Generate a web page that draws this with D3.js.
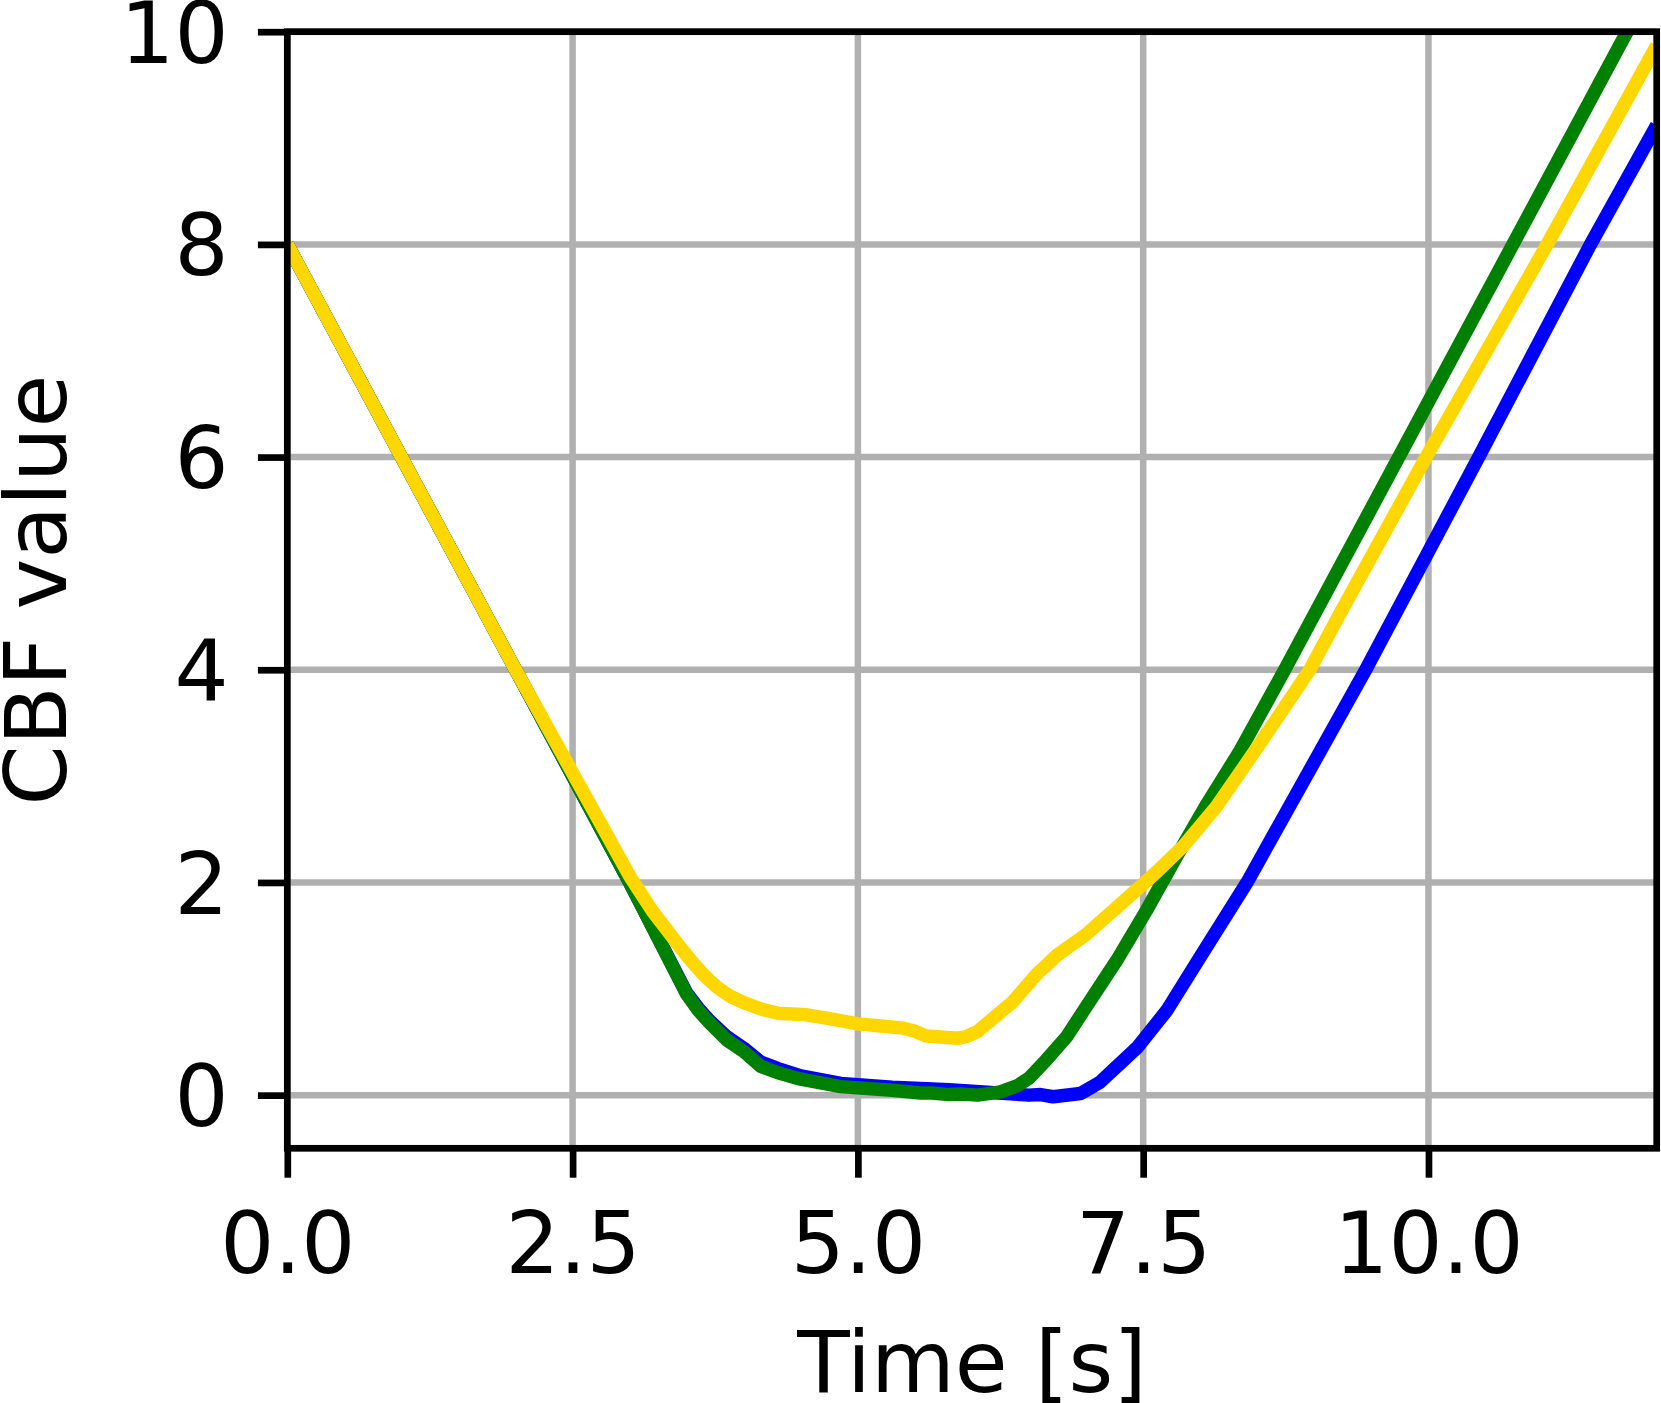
<!DOCTYPE html>
<html>
<head>
<meta charset="utf-8">
<script src="https://cdn.jsdelivr.net/npm/d3@7/dist/d3.min.js"></script>
<style>
  html, body { margin: 0; padding: 0; background: #fff; }
  svg { display: block; }
  text { font-family: "DejaVu Sans", sans-serif; fill: #000; }
</style>
</head>
<body>
<svg id="chart" width="1661" height="1403"></svg>
<script>
// ---- data ----
const xTicks = [0, 2.5, 5, 7.5, 10];
const xTickLabels = ["0.0", "2.5", "5.0", "7.5", "10.0"];
const yTicks = [0, 2, 4, 6, 8, 10];
const yTickLabels = ["0", "2", "4", "6", "8", "10"];

const blueTime = [0, 1, 2, 3, 3.5, 3.6, 3.7, 3.85, 4.0, 4.15, 4.3, 4.5, 4.85, 5.3, 5.8, 6.1, 6.3, 6.5, 6.6, 6.71, 6.95, 7.12, 7.3, 7.45, 7.71, 8.0, 8.41, 9.45, 10.44, 11.42, 12.0];
const blueValue = [8, 6, 4, 2, 0.96, 0.82, 0.70, 0.55, 0.44, 0.31, 0.25, 0.18, 0.11, 0.075, 0.05, 0.03, 0.015, 0.0, 0.005, -0.015, 0.015, 0.12, 0.30, 0.45, 0.80, 1.30, 2.0, 4.0, 6.0, 8.0, 9.12];

const greenTime = [0, 1, 2, 3, 3.5, 3.6, 3.7, 3.85, 4.0, 4.15, 4.3, 4.5, 4.85, 5.3, 5.55, 5.65, 5.8, 5.9, 6.05, 6.25, 6.4, 6.5, 6.65, 6.83, 7.0, 7.27, 7.53, 7.79, 8.06, 8.35, 8.74, 11.74, 12.0];
const greenValue = [8, 6, 4, 2, 0.95, 0.80, 0.68, 0.52, 0.41, 0.27, 0.21, 0.15, 0.08, 0.045, 0.02, 0.02, 0.005, 0.01, 0.0, 0.03, 0.09, 0.16, 0.33, 0.55, 0.83, 1.27, 1.74, 2.24, 2.74, 3.24, 4.0, 10.0, 10.52];

const yellowTime = [0, 1, 2, 2.5, 3.0, 3.2, 3.35, 3.45, 3.55, 3.65, 3.76, 3.88, 4.0, 4.15, 4.3, 4.55, 4.75, 5.0, 5.2, 5.4, 5.5, 5.6, 5.75, 5.88, 5.95, 6.05, 6.25, 6.35, 6.57, 6.75, 7.0, 7.41, 7.6, 7.85, 8.14, 8.52, 8.96, 9.22, 9.98, 11.04, 12.0];
const yellowValue = [8, 6, 4, 3.03, 2.06, 1.73, 1.52, 1.38, 1.25, 1.13, 1.02, 0.93, 0.87, 0.81, 0.77, 0.755, 0.72, 0.67, 0.65, 0.63, 0.60, 0.555, 0.545, 0.535, 0.55, 0.60, 0.78, 0.87, 1.14, 1.32, 1.51, 1.90, 2.08, 2.34, 2.71, 3.3, 4.0, 4.52, 6.0, 8.0, 9.87];

const seriesColors = ["#0000ff", "#008000", "#ffd700"];
const xLabel = "Time [s]";
const yLabel = "CBF value";

(function () {
// ---- layout ----
const pLeft = 287.3, pRight = 1656.7, pTop = 31.7, pBottom = 1148.3;
const fontSize = 85;
const spineW = 6.7, gridW = 6.5, lineW = 13.5, tickLen = 29.4;

const svg = d3.select("#chart");
const x = d3.scaleLinear().domain([0, 12]).range([pLeft, pRight]);
const y = d3.scaleLinear().domain([-0.5, 10]).range([pBottom, pTop]);

svg.append("defs").append("clipPath").attr("id", "plotClip")
  .append("rect").attr("x", pLeft).attr("y", pTop)
  .attr("width", pRight - pLeft).attr("height", pBottom - pTop);

// grid
const grid = svg.append("g");
grid.selectAll("line.vg").data(xTicks).join("line").attr("class", "vg")
  .attr("x1", d => x(d)).attr("x2", d => x(d))
  .attr("y1", pTop).attr("y2", pBottom)
  .attr("stroke", "#b0b0b0").attr("stroke-width", gridW);
grid.selectAll("line.hg").data(yTicks).join("line").attr("class", "hg")
  .attr("y1", d => y(d)).attr("y2", d => y(d))
  .attr("x1", pLeft).attr("x2", pRight)
  .attr("stroke", "#b0b0b0").attr("stroke-width", gridW);

// lines
const series = [
  { t: blueTime, v: blueValue },
  { t: greenTime, v: greenValue },
  { t: yellowTime, v: yellowValue }
];
const lineGen = d3.line().x(d => x(d[0])).y(d => y(d[1]));
const lines = svg.append("g").attr("clip-path", "url(#plotClip)");
series.forEach((s, i) => {
  const pts = s.t.map((t, j) => [t, s.v[j]]);
  lines.append("path").datum(pts)
    .attr("d", lineGen)
    .attr("fill", "none")
    .attr("stroke", seriesColors[i])
    .attr("stroke-width", lineW)
    .attr("stroke-linejoin", "round")
    .attr("stroke-linecap", "butt");
});

// axes
const xAxis = d3.axisBottom(x).tickValues(xTicks)
  .tickFormat((d, i) => xTickLabels[i]).tickSize(tickLen).tickPadding(tickLen);
const yAxis = d3.axisLeft(y).tickValues(yTicks)
  .tickFormat((d, i) => yTickLabels[i]).tickSize(tickLen).tickPadding(tickLen);

const gx = svg.append("g").attr("transform", `translate(0,${pBottom})`).call(xAxis);
const gy = svg.append("g").attr("transform", `translate(${pLeft},0)`).call(yAxis);
[gx, gy].forEach(g => {
  g.select(".domain").remove();
  g.selectAll(".tick line").attr("stroke", "#000").attr("stroke-width", spineW);
  g.selectAll(".tick text").attr("font-family", "DejaVu Sans").attr("font-size", fontSize).attr("fill", "#000");
});
gx.selectAll(".tick text").attr("y", 1273 - pBottom).attr("dy", 0);
gy.selectAll(".tick text").attr("dy", "0.36em");

// spines
svg.append("rect")
  .attr("x", pLeft).attr("y", pTop)
  .attr("width", pRight - pLeft).attr("height", pBottom - pTop)
  .attr("fill", "none").attr("stroke", "#000").attr("stroke-width", spineW)
  .attr("stroke-linejoin", "miter");

// labels
svg.append("text")
  .attr("x", (pLeft + pRight) / 2).attr("y", 1391.7)
  .attr("text-anchor", "middle").attr("font-size", fontSize + 1)
  .text(xLabel);
svg.append("text")
  .attr("transform", `translate(66,${(pTop + pBottom) / 2}) rotate(-90)`)
  .attr("text-anchor", "middle").attr("font-size", fontSize + 1)
  .text(yLabel);
})();
</script>
</body>
</html>
